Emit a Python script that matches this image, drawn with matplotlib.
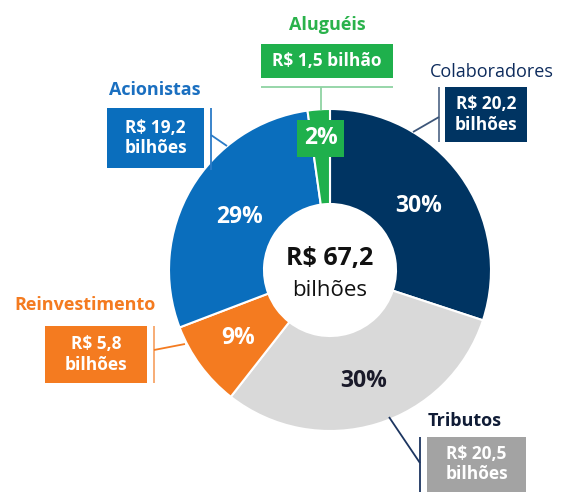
import matplotlib.pyplot as plt
import numpy as np
from matplotlib.patches import Rectangle

plt.rcParams['font.family'] = ['Open Sans', 'DejaVu Sans']

# distribuição do valor adicionado (R$ bilhões)
categorias = ['Colaboradores', 'Tributos', 'Reinvestimento', 'Acionistas', 'Aluguéis']
valores = [20.2, 20.5, 5.8, 19.2, 1.5]
percentuais = [30, 30, 9, 29, 2]
rotulos_valor = ['R$ 20,2\nbilhões', 'R$ 20,5\nbilhões', 'R$ 5,8\nbilhões',
                 'R$ 19,2\nbilhões', 'R$ 1,5 bilhão']
total_txt = 'R$ 67,2'

cores = ['#003462', '#d9d9d9', '#f47b20', '#0a6ebd', '#1fb04c']
cores_titulo = ['#0d2b5c', '#101c36', '#f47b20', '#1a6fc0', '#2ab24b']
cores_caixa = ['#003462', '#a3a3a3', '#f47b20', '#0a6ebd', '#1fb04c']
cores_pct = ['white', '#1a1a2a', 'white', 'white', 'white']

W, H = 562, 492
fig = plt.figure(figsize=(W / 100, H / 100), dpi=100)
ax = fig.add_axes([0, 0, 1, 1])


def Y(y):
    # coordenadas em pixels medidas de cima para baixo
    return H - y


cx, cy, R, r_in = 330, Y(270), 161, 66
wedges, _ = ax.pie(valores, radius=R, center=(cx, cy), startangle=90,
                   counterclock=False, colors=cores,
                   wedgeprops=dict(width=R - r_in, edgecolor='white', linewidth=1.5))
ax.set_xlim(0, W)
ax.set_ylim(0, H)
ax.set_aspect('equal')
ax.axis('off')

# percentuais dentro das fatias
dist = [0.68, 0.72, 0.71, 0.65, 0.82]
for w, p, d, c, cor_caixa in zip(wedges, percentuais, dist, cores_pct, cores_caixa):
    ang = np.deg2rad((w.theta1 + w.theta2) / 2)
    x, y = cx + d * R * np.cos(ang), cy + d * R * np.sin(ang)
    kw = {}
    if p == 2:
        kw['bbox'] = dict(boxstyle='square,pad=0.28', fc=cor_caixa, ec='none')
    ax.text(x, y, f'{p}%', ha='center', va='center', fontsize=16.5,
            fontweight='bold', color=c, **kw)

# total no centro
ax.text(cx, Y(258), total_txt, ha='center', va='center', fontsize=18,
        fontweight='bold', color='#111111')
ax.text(cx, Y(290), 'bilhões', ha='center', va='center', fontsize=16,
        color='#111111')

# caixas de valor: (x0, y0, x1, y1) em pixels, posição do título
caixas = [
    (445, 87, 527, 142, (492, 72)),
    (427, 437, 526, 494, (465, 421)),
    (45, 326, 147, 383, (85, 305)),
    (107, 108, 204, 168, (155, 90)),
    (261, 44, 393, 78, (327, 25)),
]
for i, (x0, y0, x1, y1, (tx, ty)) in enumerate(caixas):
    ax.add_patch(Rectangle((x0, Y(y1)), x1 - x0, y1 - y0, fc=cores_caixa[i],
                           ec='none', zorder=3))
    ax.text((x0 + x1) / 2, Y((y0 + y1) / 2 if i != 1 else 464), rotulos_valor[i],
            ha='center', va='center', fontsize=12.5, fontweight='bold',
            color='white', linespacing=1.15, zorder=4)
    peso = 'medium' if i == 0 else 'bold'
    ax.text(tx, Y(ty), categorias[i], ha='center', va='center', fontsize=13,
            fontweight=peso, color=cores_titulo[i])

# linhas de chamada
linhas = [
    ([439, 439], [87, 142], '#5a6f8e'), ([439, 413], [117, 132], '#3d5679'),
    ([420, 420], [437, 492], '#1c3560'), ([420, 389], [463, 417], '#1c3560'),
    ([154, 154], [326, 383], '#f7a66a'), ([154, 185], [350, 344], '#f47b20'),
    ([211, 211], [108, 170], '#2b7bc7'), ([211, 227], [135, 146], '#2b7bc7'),
    ([261, 393], [87, 87], '#8fd3a2'), ([321, 321], [87, 110], '#8fd3a2'),
]
for xs, ys, c in linhas:
    ax.plot(xs, [Y(v) for v in ys], color=c, lw=1.3, solid_capstyle='butt')

fig.savefig('out.png', dpi=100)
